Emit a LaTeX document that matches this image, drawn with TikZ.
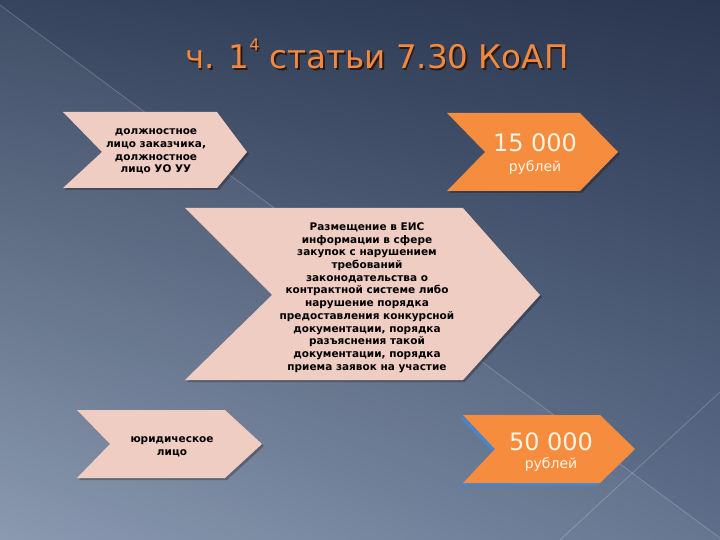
\documentclass[tikz,border=0pt]{standalone}
\usepackage{fontspec}
\setmainfont{DejaVu Sans}
\usetikzlibrary{shadings}
\definecolor{bgUL}{HTML}{36445E}
\definecolor{bgUR}{HTML}{2B3650}
\definecolor{bgLL}{HTML}{8595AD}
\definecolor{bgLR}{HTML}{5E6F8B}
\definecolor{pinkfill}{HTML}{F0CDC3}
\definecolor{orangefill}{HTML}{F68C3E}
\definecolor{titleorange}{HTML}{F08A42}
\definecolor{titleshadow}{HTML}{2A1A10}
\definecolor{numcream}{HTML}{FFF4E2}
\definecolor{blueshadow}{HTML}{4A84C6}
\begin{document}
\begin{tikzpicture}[x=1pt,y=-1pt,
  pinkchev/.style={fill=pinkfill},
  orangechev/.style={fill=orangefill},
  chevshadow/.style={fill=black, opacity=0.25},
  bodytext/.style={align=center, inner sep=0pt, text=black,
    font=\bfseries\fontsize{10.5}{12.7}\selectfont},
  bignum/.style={inner sep=0pt, text=numcream, font=\fontsize{24}{24}\selectfont},
  rubtext/.style={inner sep=0pt, text=numcream, font=\fontsize{14}{14}\selectfont},
  titletext/.style={inner sep=0pt, font=\fontsize{32.5}{32.5}\selectfont},
  faintline/.style={draw=white, opacity=0.2, line width=0.8pt}]
\useasboundingbox (0,0) rectangle (720,540);
% background
\shade[upper left=bgUL, upper right=bgUR, lower left=bgLL, lower right=bgLR] (0,0) rectangle (720,540);
\fill[white, opacity=0.05] (0,5) -- (720,538) -- (720,540) -- (0,540) -- cycle;
\draw[faintline] (0,5) -- (720,538);
\draw[faintline] (720,392) -- (560,540);
% title
\node[titletext, text=titleshadow] at (378.5,55.5) {ч. 1\raisebox{0.55em}{\fontsize{16}{16}\selectfont 4} статьи 7.30 КоАП};
\node[titletext, text=titleorange] (title) at (377,54) {ч. 1\raisebox{0.55em}{\fontsize{16}{16}\selectfont 4} статьи 7.30 КоАП};
% chevron 1
\fill[chevshadow] (65,114) -- (219,114) -- (249,154) -- (219,190) -- (65,190) -- (104,154) -- cycle;
\fill[pinkchev] (63,112) -- (217,112) -- (247,152) -- (217,188) -- (63,188) -- (102,152) -- cycle;
\node[bodytext] (c1) at (156,151.5) {должностное\\лицо заказчика,\\должностное\\лицо УО УУ};
% orange 1
\fill[chevshadow] (449,115) -- (582,115) -- (620,154) -- (582,193) -- (449,193) -- (487,154) -- cycle;
\fill[orangechev] (447,113) -- (580,113) -- (618,152) -- (580,191) -- (447,191) -- (485,152) -- cycle;
\node[bignum] (n1) at (535,143) {15 000};
\node[rubtext] (r1) at (535,168) {рублей};
% big chevron
\fill[chevshadow] (187,210) -- (465,210) -- (542,297) -- (465,382) -- (187,382) -- (274,297) -- cycle;
\fill[pinkchev] (185,208) -- (463,208) -- (540,295) -- (463,380) -- (185,380) -- (272,295) -- cycle;
\node[bodytext] (c2) at (367,297.5) {Размещение в ЕИС\\информации в сфере\\закупок  с нарушением\\требований\\законодательства о\\контрактной системе либо\\нарушение порядка\\предоставления конкурсной\\документации, порядка\\разъяснения такой\\документации, порядка\\приема заявок на участие};
% chevron 3
\fill[chevshadow] (79,412) -- (227,412) -- (264,446) -- (227,480) -- (79,480) -- (112,446) -- cycle;
\fill[pinkchev] (77,410) -- (225,410) -- (262,444) -- (225,478) -- (77,478) -- (110,444) -- cycle;
\node[bodytext] (c3) at (172,446.5) {юридическое\\лицо};
% orange 2
\fill[blueshadow] (460,418) -- (597,418) -- (632,452) -- (597,486) -- (460,486) -- (492,452) -- cycle;
\fill[orangechev] (463,415) -- (600,415) -- (635,449) -- (600,483) -- (463,483) -- (495,449) -- cycle;
\node[bignum] (n2) at (551,442) {50 000};
\node[rubtext] (r2) at (551,465) {рублей};
\end{tikzpicture}
\end{document}
